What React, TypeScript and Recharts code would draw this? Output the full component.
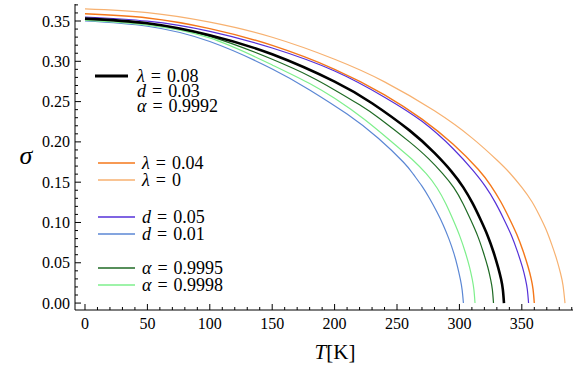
import { LineChart, Line, XAxis, YAxis, Legend } from "recharts";

// temperature (K) / sigma pairs
const lam0T = [0, 50, 100, 150, 200, 240, 280, 310, 330, 340, 350, 358, 364, 369.5, 374, 378, 381, 383, 384.6];
const lam0S = [0.365, 0.3603, 0.3485, 0.3298, 0.3025, 0.2745, 0.2385, 0.205, 0.1775, 0.162, 0.1435, 0.126, 0.109, 0.091, 0.0725, 0.054, 0.037, 0.022, 0];

const lam004T = [0, 50, 100, 150, 200, 240, 270, 295, 315, 325, 333, 340, 346, 351, 355, 357.5, 359, 360];
const lam004S = [0.359, 0.3538, 0.3406, 0.3197, 0.2901, 0.2584, 0.2282, 0.197, 0.166, 0.146, 0.126, 0.105, 0.085, 0.0645, 0.045, 0.03, 0.017, 0];

const d005T = [0, 50, 100, 150, 200, 240, 270, 295, 311, 320.9, 328.8, 335.7, 341.6, 346.5, 350.5, 352.9, 354.4, 355.4];
const d005S = [0.355, 0.3498, 0.3372, 0.3165, 0.288, 0.2555, 0.2255, 0.1915, 0.1642, 0.1444, 0.1246, 0.1038, 0.0841, 0.0638, 0.0445, 0.0297, 0.0168, 0];

const d001T = [0, 50, 100, 150, 180, 210, 235, 255, 263, 270, 276, 282, 287, 291.5, 295.5, 298.5, 300.8, 302.2, 303.2];
const d001S = [0.35, 0.3435, 0.3245, 0.2905, 0.2645, 0.2345, 0.2045, 0.175, 0.16, 0.145, 0.13, 0.113, 0.097, 0.08, 0.062, 0.045, 0.029, 0.016, 0];

const a9995T = [0, 50, 100, 150, 180, 200, 220, 236, 260, 275, 286.4, 295.5, 302.8, 309.1, 314.6, 319.1, 322.8, 325, 326.4, 327.3];
const a9995S = [0.352, 0.3465, 0.331, 0.3025, 0.2815, 0.2645, 0.246, 0.229, 0.2, 0.1795, 0.161, 0.1432, 0.1236, 0.103, 0.0834, 0.0633, 0.0441, 0.0294, 0.0167, 0];

const a9998T = [0, 50, 100, 150, 180, 200, 224, 248, 262, 273.4, 282.1, 289.1, 295.1, 300.3, 304.7, 308.2, 310.3, 311.6, 312.5];
const a9998S = [0.351, 0.345, 0.329, 0.2955, 0.2725, 0.254, 0.2277, 0.197, 0.1785, 0.1605, 0.1428, 0.1232, 0.1027, 0.0831, 0.0631, 0.044, 0.0293, 0.0166, 0];

const baseT = [0, 50, 100, 150, 200, 230, 260, 280, 293.7, 303.1, 310.5, 317, 322.6, 327.3, 331, 333.4, 334.8, 335.7];
const baseS = [0.353, 0.3472, 0.3324, 0.3087, 0.2748, 0.248, 0.2143, 0.1863, 0.1632, 0.1436, 0.1239, 0.1033, 0.0836, 0.0634, 0.0442, 0.0295, 0.0167, 0];

const xTicks = [0, 10, 20, 30, 40, 50, 60, 70, 80, 90, 100, 110, 120, 130, 140, 150, 160, 170, 180, 190, 200, 210, 220, 230, 240, 250, 260, 270, 280, 290, 300, 310, 320, 330, 340, 350, 360, 370, 380, 390];
const yTicks = [0, 0.01, 0.02, 0.03, 0.04, 0.05, 0.06, 0.07, 0.08, 0.09, 0.1, 0.11, 0.12, 0.13, 0.14, 0.15, 0.16, 0.17, 0.18, 0.19, 0.2, 0.21, 0.22, 0.23, 0.24, 0.25, 0.26, 0.27, 0.28, 0.29, 0.3, 0.31, 0.32, 0.33, 0.34, 0.35, 0.36, 0.37];

const zip = (ts: number[], ss: number[]) => ts.map((T, i) => ({ T, s: ss[i] }));

// drawn back to front, black reference curve last
const SERIES = [
  { id: "lam0", data: zip(lam0T, lam0S), color: "#f7b170", width: 1.2 },
  { id: "lam004", data: zip(lam004T, lam004S), color: "#f4771a", width: 1.4 },
  { id: "d005", data: zip(d005T, d005S), color: "#5530d8", width: 1.2 },
  { id: "d001", data: zip(d001T, d001S), color: "#5b87d4", width: 1.2 },
  { id: "a9995", data: zip(a9995T, a9995S), color: "#1f6a24", width: 1.2 },
  { id: "a9998", data: zip(a9998T, a9998S), color: "#7eef8c", width: 1.2 },
  { id: "base", data: zip(baseT, baseS), color: "#000000", width: 2.6 },
];

const SERIF = "Liberation Serif";
const TICK_FONT = 16;
const EQ = "\u200a\u00a0=\u200a\u00a0";

const isMajorX = (v: number) => v % 50 === 0;
const isMajorY = (v: number) => Math.round(v * 100) % 5 === 0;

const BottomTick = ({ x, y, payload }: any) => {
  const major = isMajorX(payload.value);
  return (
    <g>
      <line x1={x} x2={x} y1={y} y2={y - (major ? 6 : 3)} stroke="#000" />
      {major && (
        <text x={x} y={y + 13} textAnchor="middle" dominantBaseline="central" fontFamily={SERIF} fontSize={TICK_FONT} fill="#000">
          {payload.value}
        </text>
      )}
    </g>
  );
};

const TopTick = ({ x, y, payload }: any) => {
  const major = isMajorX(payload.value);
  return <line x1={x} x2={x} y1={y} y2={y + (major ? 6 : 3)} stroke="#000" />;
};

const LeftTick = ({ x, y, payload }: any) => {
  const major = isMajorY(payload.value);
  return (
    <g>
      <line x1={x} x2={x + (major ? 6 : 3)} y1={y} y2={y} stroke="#000" />
      {major && (
        <text x={x - 5} y={y} textAnchor="end" dominantBaseline="central" fontFamily={SERIF} fontSize={TICK_FONT} fill="#000">
          {payload.value.toFixed(2)}
        </text>
      )}
    </g>
  );
};

const RightTick = ({ x, y, payload }: any) => {
  const major = isMajorY(payload.value);
  return <line x1={x} x2={x - (major ? 6 : 3)} y1={y} y2={y} stroke="#000" />;
};

const Eq = ({ x, y, v, n }: { x: number; y: number; v: string; n: string }) => (
  <text x={x} y={y} dominantBaseline="central" fontFamily={SERIF} fontSize={18} fill="#000">
    <tspan fontStyle="italic">{v}</tspan>
    {EQ + n}
  </text>
);

const THIN_ENTRIES = [
  { v: "λ", n: "0.04", color: "#f4771a", y: 163 },
  { v: "λ", n: "0", color: "#f7b170", y: 180 },
  { v: "d", n: "0.05", color: "#5530d8", y: 217 },
  { v: "d", n: "0.01", color: "#5b87d4", y: 234 },
  { v: "α", n: "0.9995", color: "#1f6a24", y: 268 },
  { v: "α", n: "0.9998", color: "#7eef8c", y: 285 },
];

const Overlay = () => (
  <svg width={584} height={370} style={{ display: "block" }}>
    <line x1={95} x2={128} y1={76} y2={76} stroke="#000" strokeWidth={3} />
    <Eq x={137} y={76} v="λ" n="0.08" />
    <Eq x={137} y={91} v="d" n="0.03" />
    <Eq x={137} y={106} v="α" n="0.9992" />
    {THIN_ENTRIES.map((e) => (
      <g key={e.v + e.n}>
        <line x1={98} x2={135} y1={e.y} y2={e.y} stroke={e.color} strokeWidth={1.3} />
        <Eq x={142} y={e.y} v={e.v} n={e.n} />
      </g>
    ))}
    <text x={26} y={155} textAnchor="middle" dominantBaseline="central" fontFamily={SERIF} fontSize={26} fontStyle="italic" fill="#000">
      σ
    </text>
    <text x={335} y={352} textAnchor="middle" dominantBaseline="central" fontFamily={SERIF} fontSize={21} fill="#000">
      <tspan fontStyle="italic">T</tspan>[K]
    </text>
  </svg>
);

export default function App() {
  return (
    <div style={{ position: "absolute", left: 0, top: 0, background: "#fff" }}>
      <LineChart width={584} height={370} margin={{ top: 4, right: 11, bottom: 0, left: 0 }}>
        <XAxis
          xAxisId="b"
          type="number"
          dataKey="T"
          domain={[-8, 391]}
          allowDataOverflow
          ticks={xTicks}
          interval={0}
          tick={<BottomTick />}
          tickLine={false}
          tickSize={0}
          tickMargin={0}
          height={60}
          axisLine={{ stroke: "#000" }}
        />
        <XAxis
          xAxisId="t"
          orientation="top"
          type="number"
          dataKey="T"
          domain={[-8, 391]}
          allowDataOverflow
          ticks={xTicks}
          interval={0}
          tick={<TopTick />}
          tickLine={false}
          tickSize={0}
          tickMargin={0}
          height={0}
          axisLine={{ stroke: "#000" }}
        />
        <YAxis
          yAxisId="l"
          type="number"
          domain={[-0.0086, 0.3711]}
          allowDataOverflow
          ticks={yTicks}
          interval={0}
          tick={<LeftTick />}
          tickLine={false}
          tickSize={0}
          tickMargin={0}
          width={75}
          axisLine={{ stroke: "#000" }}
        />
        <YAxis
          yAxisId="r"
          orientation="right"
          type="number"
          domain={[-0.0086, 0.3711]}
          allowDataOverflow
          ticks={yTicks}
          interval={0}
          tick={<RightTick />}
          tickLine={false}
          tickSize={0}
          tickMargin={0}
          width={0}
          axisLine={{ stroke: "#000" }}
        />
        {SERIES.map((s) => (
          <Line
            key={s.id}
            xAxisId="b"
            yAxisId="l"
            data={s.data}
            dataKey="s"
            type="natural"
            stroke={s.color}
            strokeWidth={s.width}
            dot={false}
            activeDot={false}
            isAnimationActive={false}
          />
        ))}
        <Legend
          layout="vertical"
          align="center"
          verticalAlign="middle"
          wrapperStyle={{ left: 0, top: 0, width: 584, height: 370, pointerEvents: "none" }}
          content={<Overlay />}
        />
      </LineChart>
    </div>
  );
}
